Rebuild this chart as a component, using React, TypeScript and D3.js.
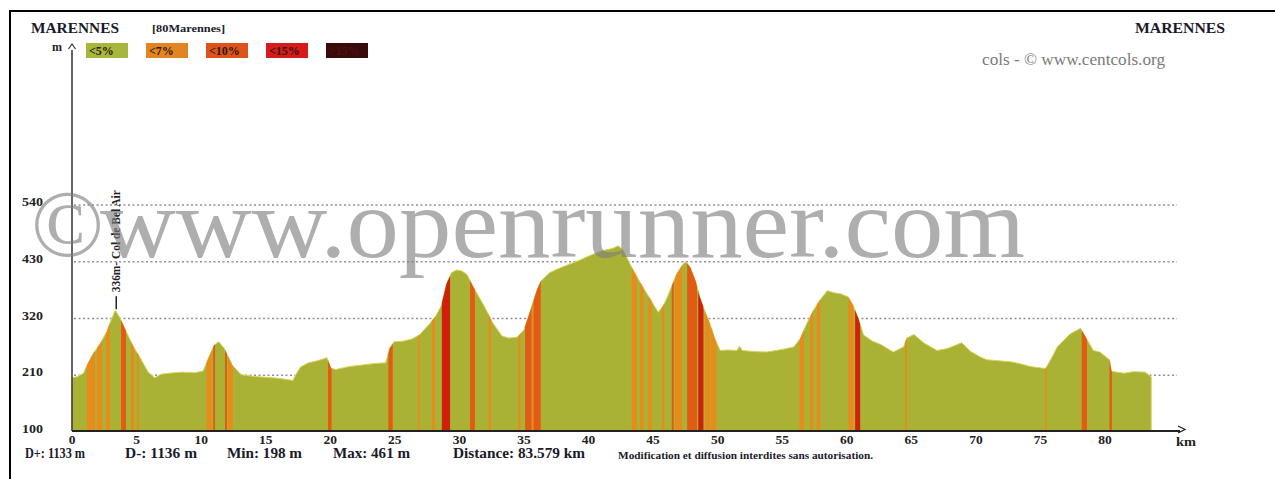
import React, { useRef, useEffect } from 'react';
import * as d3 from 'd3';

// profile: km / metres
const distances = [
  0, 0.4, 0.9, 1.15, 1.6, 2.2, 2.7, 3.0, 3.35, 3.7, 4.2, 4.7, 5.3, 5.9, 6.4, 6.9, 7.5, 8.5, 9.5,
  10.15, 10.6, 11.0, 11.35, 11.8, 12.4, 13.1, 14.0, 15.0, 16.0, 17.1, 17.4, 17.7, 18.3, 19.0, 19.75,
  20.05, 20.4, 21.5, 22.5, 23.5, 24.3, 24.6, 24.95, 25.6, 26.3, 26.9, 27.7, 28.2, 28.6, 29.0, 29.4,
  29.8, 30.2, 30.6, 31.1, 31.9, 32.6, 33.3, 33.8, 34.5, 35.0, 35.5, 36.0, 36.3, 37.0, 37.8, 38.6,
  39.4, 40.1, 41.0, 41.9, 42.3, 42.7, 43.35, 44.0, 44.6, 45.4, 45.8, 46.1, 46.8, 47.3, 47.55, 47.9,
  48.3, 48.6, 49.0, 49.4, 49.8, 50.2, 50.8, 51.5, 51.7, 51.9, 52.8, 53.8, 55.0, 55.9, 56.4, 56.9,
  57.4, 57.9, 58.5, 59.0, 59.5, 60.1, 60.5, 60.9, 61.3, 62.0, 62.6, 63.6, 64.4, 64.65, 65.2, 66.0,
  67.0, 67.8, 68.9, 69.6, 70.3, 70.85, 71.8, 72.7, 73.5, 74.2, 75.4, 75.9, 76.3, 77.3, 78.1, 78.5,
  79.1, 79.6, 80.35, 80.5, 80.9, 81.5, 82.2, 83.1, 83.579,
];
const elevations = [
  205, 207, 214, 229, 250, 272, 295, 315, 336, 322, 295, 268, 243, 216, 205, 212, 214, 216, 215,
  218, 245, 268, 275, 262, 230, 211, 208, 206, 204, 200, 214, 226, 234, 238, 244,
  224, 221, 227, 230, 233, 234, 262, 275, 276, 280, 288, 310, 326, 345, 387, 409,
  414, 412, 405, 380, 345, 311, 286, 282, 284, 298, 335, 375, 392, 409, 418, 426,
  434, 442, 451, 456, 461, 452, 419, 390, 365, 332, 345, 361, 405, 425, 430, 418,
  392, 363, 335, 310, 280, 258, 259, 258, 266, 258, 256, 255, 260, 265, 281, 310,
  335, 355, 374, 370, 368, 362, 345, 320, 288, 276, 270, 255, 265, 282, 289, 272,
  258, 262, 273, 256, 246, 240, 238, 236, 232, 227, 223, 245, 265, 290, 301, 284,
  258, 255, 240, 218, 216, 214, 217, 216, 207,
];

// steep stretches: [from km, to km, class] 1 = <7%, 2 = <10%, 3 = <15%
const gradeBands = [
  [1.16, 1.78, 1], [1.94, 2.32, 1], [2.63, 2.94, 1], [3.8, 4.18, 2], [4.57, 4.8, 1], [5.03, 5.19, 1],
  [10.43, 10.82, 1], [10.93, 11.08, 2], [11.85, 12.0, 2], [12.08, 12.45, 1],
  [19.83, 20.1, 2], [24.5, 24.84, 2], [26.8, 26.92, 1], [27.86, 28.1, 1], [28.64, 29.28, 3],
  [30.83, 31.2, 2], [32.25, 32.43, 1], [34.55, 34.72, 1], [35.09, 35.6, 2], [35.6, 35.75, 1],
  [35.75, 36.3, 2],
  [43.35, 43.74, 1], [44.0, 44.25, 1], [44.64, 44.9, 1], [45.68, 45.86, 1], [46.45, 46.6, 2],
  [46.7, 47.23, 1], [47.64, 48.4, 2], [48.5, 48.9, 3], [49.03, 49.4, 1], [49.47, 49.9, 1],
  [56.34, 56.7, 1], [57.15, 57.4, 1], [57.68, 57.94, 1], [60.13, 60.52, 1], [60.65, 61.04, 3],
  [64.52, 64.65, 1], [75.37, 75.48, 1], [78.2, 78.6, 2], [80.35, 80.53, 2],
];

const legendLabels = ['<5%', '<7%', '<10%', '<15%', '>15%'];
const legendColors = ['#a8b63a', '#e38422', '#e0521c', '#d81a1c', '#3a0a0a'];
const bandColors = ['#aab236', '#e98a1c', '#e35a14', '#cf200e'];

const yTicks = [100, 210, 320, 430, 540];
const xTicks = [0, 5, 10, 15, 20, 25, 30, 35, 40, 45, 50, 55, 60, 65, 70, 75, 80];

const stats = ['D+: 1133 m', 'D-: 1136 m', 'Min: 198 m', 'Max: 461 m', 'Distance: 83.579 km'];

const summit = { km: 3.35, elev: 336, label: '336m- Col de Bel Air' };

const FONT = '"Liberation Serif", "Times New Roman", serif';

const ProfileChart = () => {
  const svgRef = useRef(null);
  const width = 1275;
  const height = 479;

  useEffect(() => {
    const svg = d3.select(svgRef.current);
    svg.selectAll('*').remove();

    const x = d3.scaleLinear().domain([0, 80]).range([72, 1105]);
    const y = d3.scaleLinear().domain([100, 540]).range([432, 205]);
    const baseY = 431;

    svg.append('rect').attr('width', width).attr('height', height).attr('fill', '#fff');

    // frame
    svg.append('rect')
      .attr('x', 10).attr('y', 11)
      .attr('width', 1400).attr('height', 600)
      .attr('fill', 'none').attr('stroke', '#000').attr('stroke-width', 2);

    // grid
    svg.append('g')
      .selectAll('line')
      .data(yTicks.slice(1))
      .enter()
      .append('line')
      .attr('x1', 74).attr('x2', 1177)
      .attr('y1', d => y(d)).attr('y2', d => y(d))
      .attr('stroke', '#8e8ea6')
      .attr('stroke-width', 1.3)
      .attr('stroke-dasharray', '2,2.5');

    // profile
    const pts = distances.map((d, i) => [d, elevations[i]]);
    const area = d3.area()
      .x(d => x(d[0]))
      .y0(baseY)
      .y1(d => y(d[1]));

    svg.append('clipPath').attr('id', 'profile-clip')
      .append('path').attr('d', area(pts));

    svg.append('path')
      .attr('d', area(pts))
      .attr('fill', bandColors[0])
      .attr('stroke', '#d9d35a')
      .attr('stroke-width', 1);

    svg.append('g')
      .attr('clip-path', 'url(#profile-clip)')
      .selectAll('rect')
      .data(gradeBands)
      .enter()
      .append('rect')
      .attr('x', d => x(d[0]))
      .attr('width', d => Math.max(1.2, x(d[1]) - x(d[0])))
      .attr('y', 200)
      .attr('height', baseY - 200)
      .attr('fill', d => bandColors[d[2]]);

    // axes
    svg.append('line')
      .attr('x1', 72).attr('x2', 1180).attr('y1', baseY).attr('y2', baseY)
      .attr('stroke', '#222').attr('stroke-width', 2.2);
    svg.append('path')
      .attr('d', 'M1178,426 L1185,429.5 L1178,433')
      .attr('fill', 'none').attr('stroke', '#222').attr('stroke-width', 1.3);
    svg.append('line')
      .attr('x1', 72).attr('x2', 72).attr('y1', 50).attr('y2', baseY)
      .attr('stroke', '#333').attr('stroke-width', 1.5);
    svg.append('path')
      .attr('d', 'M68.5,49 L72,44 L75.5,49')
      .attr('fill', 'none').attr('stroke', '#333').attr('stroke-width', 1.2);

    svg.append('text')
      .attr('x', 52).attr('y', 51)
      .attr('font-family', FONT).attr('font-weight', 'bold').attr('font-size', 12)
      .attr('fill', '#222')
      .text('m');
    svg.append('text')
      .attr('x', 1176).attr('y', 446)
      .attr('font-family', FONT).attr('font-weight', 'bold').attr('font-size', 12)
      .attr('textLength', 20).attr('lengthAdjust', 'spacingAndGlyphs')
      .attr('fill', '#222')
      .text('km');

    svg.append('g')
      .selectAll('text')
      .data(yTicks)
      .enter()
      .append('text')
      .attr('x', 22)
      .attr('y', d => y(d) + 1)
      .attr('font-family', FONT).attr('font-weight', 'bold').attr('font-size', 13.5)
      .attr('textLength', 21).attr('lengthAdjust', 'spacingAndGlyphs')
      .attr('fill', '#222')
      .text(d => d);

    svg.append('g')
      .selectAll('text')
      .data(xTicks)
      .enter()
      .append('text')
      .attr('x', d => x(d))
      .attr('y', 444)
      .attr('text-anchor', 'middle')
      .attr('font-family', FONT).attr('font-weight', 'bold').attr('font-size', 13.5)
      .attr('fill', '#222')
      .text(d => d);

    // summit marker
    svg.append('line')
      .attr('x1', x(summit.km) + 1).attr('x2', x(summit.km) + 1)
      .attr('y1', y(summit.elev) - 1).attr('y2', y(summit.elev) - 14)
      .attr('stroke', '#222').attr('stroke-width', 1.5);
    svg.append('text')
      .attr('transform', `translate(${x(summit.km) + 5},${y(summit.elev) - 18}) rotate(-90)`)
      .attr('font-family', FONT).attr('font-weight', 'bold').attr('font-size', 11.5)
      .attr('textLength', 102).attr('lengthAdjust', 'spacingAndGlyphs')
      .attr('fill', '#222')
      .text(summit.label);

    // header
    svg.append('text')
      .attr('x', 31).attr('y', 33)
      .attr('font-family', FONT).attr('font-weight', 'bold').attr('font-size', 15)
      .attr('textLength', 88).attr('lengthAdjust', 'spacingAndGlyphs')
      .attr('fill', '#1a1a2a')
      .text('MARENNES');
    svg.append('text')
      .attr('x', 152).attr('y', 32)
      .attr('font-family', FONT).attr('font-weight', 'bold').attr('font-size', 10)
      .attr('textLength', 73).attr('lengthAdjust', 'spacingAndGlyphs')
      .attr('fill', '#1a1a2a')
      .text('[80Marennes]');
    svg.append('text')
      .attr('x', 1135).attr('y', 33)
      .attr('font-family', FONT).attr('font-weight', 'bold').attr('font-size', 15)
      .attr('textLength', 90).attr('lengthAdjust', 'spacingAndGlyphs')
      .attr('fill', '#1a1a2a')
      .text('MARENNES');
    svg.append('text')
      .attr('x', 982).attr('y', 65)
      .attr('font-family', FONT).attr('font-size', 16)
      .attr('textLength', 183).attr('lengthAdjust', 'spacingAndGlyphs')
      .attr('fill', '#7a7a7a')
      .text('cols - © www.centcols.org');

    // legend
    const legend = svg.append('g')
      .selectAll('g')
      .data(legendLabels)
      .enter()
      .append('g')
      .attr('transform', (d, i) => `translate(${86 + i * 60},43)`);
    legend.append('rect')
      .attr('width', 42).attr('height', 15)
      .attr('fill', (d, i) => legendColors[i]);
    legend.append('text')
      .attr('x', 3).attr('y', 12)
      .attr('font-family', FONT).attr('font-weight', 'bold').attr('font-size', 12)
      .attr('fill', (d, i) => (i === 4 ? '#4a1010' : '#2a1a08'))
      .text(d => d);

    // footer
    const statX = [25, 125, 227, 333, 453];
    const statW = [60, 72, 75, 77, 132];
    svg.append('g')
      .selectAll('text')
      .data(stats)
      .enter()
      .append('text')
      .attr('x', (d, i) => statX[i])
      .attr('y', 458)
      .attr('font-family', FONT).attr('font-weight', 'bold').attr('font-size', 14)
      .attr('textLength', (d, i) => statW[i]).attr('lengthAdjust', 'spacingAndGlyphs')
      .attr('fill', '#1a1a2a')
      .text(d => d);
    svg.append('text')
      .attr('x', 618).attr('y', 459)
      .attr('font-family', FONT).attr('font-weight', 'bold').attr('font-size', 9.5)
      .attr('textLength', 255).attr('lengthAdjust', 'spacingAndGlyphs')
      .attr('fill', '#1a1a2a')
      .text('Modification et diffusion interdites sans autorisation.');

    // watermark
    const wm = svg.append('g').attr('opacity', 0.62).attr('fill', '#7e7e7e');
    wm.append('text')
      .attr('x', 31).attr('y', 256)
      .attr('font-family', FONT).attr('font-size', 96)
      .text('©');
    wm.append('text')
      .attr('x', 100).attr('y', 257)
      .attr('font-family', FONT).attr('font-size', 100)
      .attr('textLength', 925).attr('lengthAdjust', 'spacingAndGlyphs')
      .text('www.openrunner.com');
  }, []);

  return (
    <svg
      ref={svgRef}
      width={width}
      height={height}
      style={{ position: 'absolute', left: 0, top: 0 }}
    />
  );
};

export default function App() {
  return <ProfileChart />;
}
